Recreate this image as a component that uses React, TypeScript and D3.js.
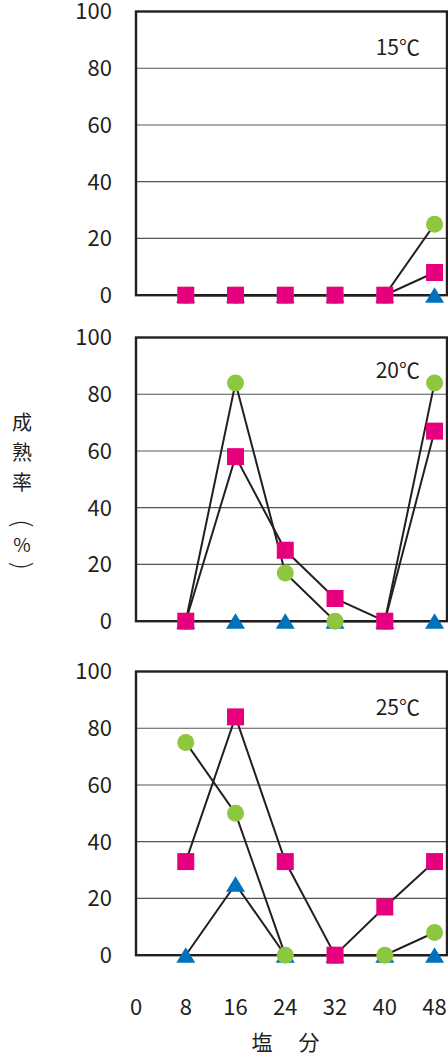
import React from "react";
import * as d3 from "d3";

const salt = [8, 16, 24, 32, 40, 48];
const xTicks = [0, 8, 16, 24, 32, 40, 48];
const yTicks = [0, 20, 40, 60, 80, 100];
const panelLabels = ["15℃", "20℃", "25℃"];

// Series per panel (15℃, 20℃, 25℃)
const squareVals = [
  [0, 0, 0, 0, 0, 8],
  [0, 58, 25, 8, 0, 67],
  [33, 84, 33, 0, 17, 33],
];
const circleVals = [
  [0, 0, 0, 0, 0, 25],
  [0, 84, 17, 0, 0, 84],
  [75, 50, 0, 0, 0, 8],
];
const triangleVals = [
  [0, 0, 0, 0, 0, 0],
  [0, 0, 0, 0, 0, 0],
  [0, 25, 0, 0, 0, 0],
];

const panelTops = [11.5, 337.5, 671.5];
const panelH = 283.7;
const left = 136;
const right = 447;

const MAGENTA = "#E6007E";
const GREEN = "#8DC63F";
const BLUE = "#0071BC";
const INK = "#231F20";
const FONT = "'Noto Sans CJK JP', 'Noto Sans', sans-serif";

export default function App() {
  const x = d3.scaleLinear().domain([0, 50]).range([left, right]);
  const line = (y: d3.ScaleLinear<number, number>) =>
    d3
      .line<number>()
      .x((_, i) => x(salt[i]))
      .y((v) => y(v));

  return (
    <svg
      width={448}
      height={1056}
      style={{ position: "absolute", left: 0, top: 0 }}
      fontFamily={FONT}
    >
      <rect width={448} height={1056} fill="#fff" />
      {panelTops.map((top, p) => {
        const y = d3.scaleLinear().domain([0, 100]).range([top + panelH, top]);
        const ln = line(y);
        return (
          <g key={p}>
            {yTicks
              .filter((t) => t > 0 && t < 100)
              .map((t) => (
                <line
                  key={t}
                  x1={left}
                  x2={right}
                  y1={y(t)}
                  y2={y(t)}
                  stroke="#555"
                  strokeWidth={1.2}
                />
              ))}
            <rect
              x={left}
              y={y(100)}
              width={right - left}
              height={y(0) - y(100)}
              fill="none"
              stroke={INK}
              strokeWidth={2.4}
            />
            {yTicks.map((t) => (
              <text
                key={t}
                x={112}
                y={y(t)}
                dy="0.36em"
                textAnchor="end"
                fontSize={22}
                fill={INK}
              >
                {t}
              </text>
            ))}
            <text
              x={420}
              y={top + (p === 1 ? 40 : 43)}
              textAnchor="end"
              fontSize={21}
              fill={INK}
            >
              {panelLabels[p]}
            </text>
            {[triangleVals[p], circleVals[p], squareVals[p]].map((vals, s) => (
              <path
                key={s}
                d={ln(vals) || ""}
                fill="none"
                stroke={INK}
                strokeWidth={2}
              />
            ))}
            {triangleVals[p].map((v, i) => (
              <path
                key={"t" + i}
                transform={`translate(${x(salt[i])},${y(v)})`}
                d="M0,-8 L9.5,7.5 L-9.5,7.5 Z"
                fill={BLUE}
              />
            ))}
            {circleVals[p].map((v, i) => (
              <circle key={"c" + i} cx={x(salt[i])} cy={y(v)} r={8.5} fill={GREEN} />
            ))}
            {squareVals[p].map((v, i) => (
              <rect
                key={"s" + i}
                x={x(salt[i]) - 8.5}
                y={y(v) - 8.5}
                width={17}
                height={17}
                fill={MAGENTA}
              />
            ))}
          </g>
        );
      })}
      {xTicks.map((t) => (
        <text
          key={t}
          x={x(t)}
          y={1015}
          textAnchor="middle"
          fontSize={22}
          fill={INK}
        >
          {t}
        </text>
      ))}
      <text x={262} y={1050} textAnchor="middle" fontSize={21} fill={INK}>
        塩
      </text>
      <text x={309} y={1050} textAnchor="middle" fontSize={21} fill={INK}>
        分
      </text>
      {[
        ["成", 423],
        ["熟", 453],
        ["率", 483],
        ["%", 545],
      ].map(([c, cy]) => (
        <text
          key={c as string}
          x={22}
          y={cy as number}
          dy="0.36em"
          textAnchor="middle"
          fontSize={c === "%" ? 19 : 20}
          fill={INK}
        >
          {c}
        </text>
      ))}
      {[
        ["(", 524],
        [")", 565],
      ].map(([c, cy]) => (
        <text
          key={c as string}
          transform={`translate(22,${cy}) rotate(90)`}
          dy="0.34em"
          textAnchor="middle"
          fontSize={26}
          fontFamily="'DejaVu Sans', sans-serif"
          fontWeight={300}
          fill={INK}
        >
          {c}
        </text>
      ))}
    </svg>
  );
}
